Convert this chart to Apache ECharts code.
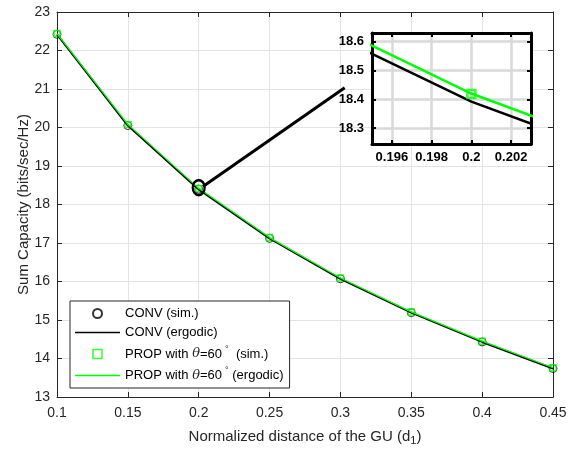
<!DOCTYPE html>
<html>
<head>
<meta charset="utf-8">
<title>Sum capacity vs normalized distance</title>
<script src="https://cdn.jsdelivr.net/npm/echarts@6/dist/echarts.min.js"></script>
<style>
    html, body { margin: 0; padding: 0; background: #fff; }
    #capacity_chart { width: 576px; height: 451px; }
</style>
</head>
<body>
<div id="capacity_chart"></div>
<script>

// Chart data
// ------------------------------

var distances = [0.1, 0.15, 0.2, 0.25, 0.3, 0.35, 0.4, 0.45];
var convSim = [22.42, 20.05, 18.40, 17.12, 16.07, 15.19, 14.43, 13.74];
var convErgodic = [22.42, 20.05, 18.392, 17.12, 16.07, 15.19, 14.43, 13.74];
var propSim = [22.44, 20.08, 18.418, 17.14, 16.09, 15.21, 14.45, 13.76];
var propErgodic = [22.44, 20.08, 18.42, 17.14, 16.09, 15.21, 14.45, 13.76];

var seriesNames = ['CONV (sim.)', 'CONV (ergodic)', 'PROP with θ=60°  (sim.)', 'PROP with θ=60° (ergodic)'];

// zoomed window and the pointer from the circled point to it
var insetX = [0.195, 0.203];
var insetY = [18.245, 18.63];
var zoomSpot = [0.2, 18.44];
var zoomConnector = [[0.203, 18.47], [0.303, 21.03]];


// Setup module
// ------------------------------

var CapacityChart = function() {

    var pair = function(xs, ys) {
        return xs.map(function(x, i) { return [x, ys[i]]; });
    };

    var _capacityChart = function() {
        if (typeof echarts == 'undefined') {
            console.warn('Warning - echarts.min.js is not loaded.');
            return;
        }

        var chart_element = document.getElementById('capacity_chart');
        if (!chart_element) return;

        var chart = echarts.init(chart_element, null, { renderer: 'canvas' });

        var font = "'Liberation Sans', Arial, Helvetica, sans-serif";
        var dark = '#262626';
        var green = '#00ff00';
        var lineIcon = 'path://M0,0H45V1.4H0Z';

        // main axes look (MATLAB style box with inward ticks)
        var mainAxis = function(extra) {
            return Object.assign({
                type: 'value',
                gridIndex: 0,
                axisLine: { show: true, lineStyle: { color: dark, width: 1 } },
                axisTick: { show: true, inside: true, length: 5, lineStyle: { color: dark } },
                splitLine: { show: false },
                axisLabel: { show: false }
            }, extra);
        };

        var insetAxis = function(extra) {
            return Object.assign({
                type: 'value',
                gridIndex: 1,
                z: 3,
                axisLine: { show: true, onZero: false, lineStyle: { color: '#000', width: 3 } },
                axisTick: { show: true, inside: true, length: 4, lineStyle: { color: '#000', width: 2 } },
                splitLine: { show: false },
                axisLabel: { show: false }
            }, extra);
        };

        var options = {
            animation: false,
            textStyle: { fontFamily: font, color: dark },

            grid: [
                { left: 57, top: 12, right: 23, bottom: 53 },
                { left: 372, top: 33, right: 45, bottom: 307, show: true, z: 1,
                  backgroundColor: '#fff', borderWidth: 0 }
            ],

            legend: {
                left: 70,
                top: 301,
                orient: 'vertical',
                itemWidth: 45,
                itemHeight: 9,
                itemGap: 6,
                padding: [6, 6, 6, 5],
                backgroundColor: '#fff',
                borderColor: dark,
                borderWidth: 1,
                borderRadius: 0,
                textStyle: {
                    fontFamily: font, fontSize: 13, color: '#000',
                    rich: {
                        i: { fontFamily: "'DejaVu Serif', serif", fontStyle: 'italic', fontSize: 13 },
                        s: { fontSize: 9, padding: [0, 0, 9, 3] }
                    }
                },
                formatter: function(name) {
                    return name.replace('θ', '{i|θ}').replace('°', '{s|°}');
                },
                data: [
                    { name: seriesNames[0] },
                    { name: seriesNames[1], icon: lineIcon },
                    { name: seriesNames[2], icon: 'path://M0,0H10V10H0Z',
                      itemStyle: { color: 'transparent', borderColor: green, borderWidth: 1.5 } },
                    { name: seriesNames[3], icon: lineIcon }
                ]
            },

            xAxis: [
                mainAxis({
                    min: 0.1, max: 0.45, interval: 0.05,
                    name: 'Normalized distance of the GU (d{sub|1})',
                    nameLocation: 'middle',
                    nameGap: 30,
                    nameMoveOverlap: false,
                    nameTextStyle: {
                        fontSize: 15, color: dark,
                        rich: { sub: { fontSize: 11, padding: [8, 0, 0, 0] } }
                    },
                    splitLine: { show: true, lineStyle: { color: '#e3e3e3' } },
                    axisLabel: { show: true, fontSize: 14, color: dark, margin: 9 }
                }),
                mainAxis({ position: 'top', min: 0.1, max: 0.45, interval: 0.05 }),
                insetAxis({
                    min: insetX[0], max: insetX[1], splitNumber: 4,
                    splitLine: { show: true, lineStyle: { color: '#d9d9d9', width: 2.5 } },
                    axisLabel: { show: true, fontSize: 13, fontWeight: 'bold', color: '#000', margin: 7,
                                 showMinLabel: false, showMaxLabel: false }
                }),
                insetAxis({ position: 'top', min: insetX[0], max: insetX[1], splitNumber: 4 })
            ],

            yAxis: [
                mainAxis({
                    min: 13, max: 23, interval: 1,
                    name: 'Sum Capacity (bits/sec/Hz)',
                    nameLocation: 'middle',
                    nameGap: 26,
                    nameMoveOverlap: false,
                    nameTextStyle: { fontSize: 15, color: dark },
                    splitLine: { show: true, lineStyle: { color: '#e3e3e3' } },
                    axisLabel: { show: true, fontSize: 14, color: dark, margin: 7 }
                }),
                mainAxis({ position: 'right', min: 13, max: 23, interval: 1 }),
                insetAxis({
                    gridIndex: 1,
                    min: insetY[0], max: insetY[1], splitNumber: 4,
                    splitLine: { show: true, lineStyle: { color: '#d9d9d9', width: 2.5 } },
                    axisLabel: { show: true, fontSize: 13, fontWeight: 'bold', color: '#000', margin: 8,
                                 showMinLabel: false, showMaxLabel: false }
                }),
                insetAxis({ position: 'right', min: insetY[0], max: insetY[1], splitNumber: 4 })
            ],

            series: [
                {
                    name: seriesNames[0],
                    type: 'scatter',
                    symbol: 'circle',
                    symbolSize: 8,
                    itemStyle: { color: 'transparent', borderColor: '#000', borderWidth: 1 },
                    data: pair(distances, convSim)
                },
                {
                    name: seriesNames[1],
                    type: 'line',
                    symbol: 'none',
                    color: '#000',
                    lineStyle: { color: '#000', width: 2 },
                    data: pair(distances, convErgodic),
                    markPoint: {
                        symbol: 'path://M6,0A6,7.5 0 1,1 6,15A6,7.5 0 1,1 6,0Z',
                        symbolSize: [12, 15],
                        silent: true,
                        label: { show: false },
                        itemStyle: { color: 'transparent', borderColor: '#000', borderWidth: 2.5 },
                        data: [{ coord: zoomSpot }]
                    },
                    markLine: {
                        symbol: 'none',
                        silent: true,
                        label: { show: false },
                        lineStyle: { color: '#000', width: 3, type: 'solid' },
                        data: [[{ coord: zoomConnector[0] }, { coord: zoomConnector[1] }]]
                    }
                },
                {
                    name: seriesNames[2],
                    type: 'scatter',
                    symbol: 'rect',
                    symbolSize: 6,
                    itemStyle: { color: 'transparent', borderColor: green, borderWidth: 1.5 },
                    data: pair(distances, propSim)
                },
                {
                    name: seriesNames[3],
                    type: 'line',
                    symbol: 'none',
                    color: green,
                    lineStyle: { color: green, width: 1.2 },
                    data: pair(distances, propErgodic)
                },

                // inset copies, same data seen through the zoomed axes
                {
                    name: 'inset conv',
                    type: 'line',
                    xAxisIndex: 2, yAxisIndex: 2,
                    symbol: 'none',
                    z: 4,
                    clip: true,
                    lineStyle: { color: '#000', width: 2.5 },
                    data: pair(distances, convErgodic)
                },
                {
                    name: 'inset prop',
                    type: 'line',
                    xAxisIndex: 2, yAxisIndex: 2,
                    symbol: 'none',
                    z: 4,
                    clip: true,
                    lineStyle: { color: green, width: 2.5 },
                    data: pair(distances, propErgodic)
                },
                {
                    name: 'inset prop sim',
                    type: 'scatter',
                    xAxisIndex: 2, yAxisIndex: 2,
                    symbol: 'rect',
                    symbolSize: 8,
                    z: 5,
                    clip: true,
                    itemStyle: { color: 'transparent', borderColor: green, borderWidth: 2.5 },
                    data: pair(distances, propSim)
                }
            ]
        };

        chart.setOption(options);
    };

    return {
        init: function() {
            _capacityChart();
        }
    }
}();


// Initialize module
// ------------------------------

document.addEventListener('DOMContentLoaded', function() {
    CapacityChart.init();
});
</script>
</body>
</html>
